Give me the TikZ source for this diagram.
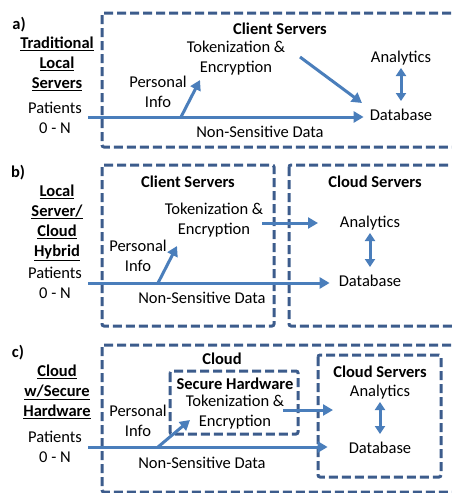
\documentclass[tikz,border=0pt]{standalone}
\usepackage{fontspec}
\setmainfont{Carlito}
\usetikzlibrary{arrows.meta, positioning, calc}
\definecolor{boxblue}{RGB}{60,92,140}
\definecolor{arrowblue}{RGB}{74,126,187}
\tikzset{
         mydash/.style={draw=boxblue, line width=3pt, dash pattern=on 9pt off 4pt, rounded corners=2pt},
         mytext/.style={inner sep=0pt, align=center, font=\fontsize{16.5}{20}\selectfont},
         mybold/.style={mytext, font=\fontsize{16.5}{20}\selectfont\bfseries},
         myarrow/.style={draw=arrowblue, line width=3pt, -{Triangle[length=10pt,width=11pt]}},
         mydarrow/.style={draw=arrowblue, line width=3pt, {Triangle[length=8pt,width=10pt]}-{Triangle[length=8pt,width=10pt]}}
      }

\begin{document}
\begin{tikzpicture}[x=1pt, y=-1pt]
  \useasboundingbox (0,0) rectangle (452,493);
  \clip (0,0) rectangle (452,493);

  % a) traditional local servers
  \draw[mydash] (102,13) rectangle (470,147);
  \node[mybold] (a-lbl) at (19,25) {a)};
  \node[mybold] (a-title) at (57,64) {\underline{Traditional}\\\underline{Local}\\\underline{Servers}};
  \node[mytext] (a-pat) at (55,118) {Patients\\0 - N};
  \node[mybold] (a-cs) at (280,29) {Client Servers};
  \node[mytext] (a-tok) at (236,58) {Tokenization \&\\Encryption};
  \node[mytext] (a-pi) at (158,92) {Personal\\Info};
  \node[mytext] (a-an) at (401,58) {Analytics};
  \node[mytext] (a-db) at (401,115) {Database};
  \node[mytext] (a-nsd) at (260,132) {Non-Sensitive Data};
  \coordinate (a-in) at (88,117);
  \coordinate (a-pf) at (181,117);
  \coordinate (a-pt) at (200,80);
  \coordinate (a-ts) at (300,57);
  \coordinate (a-te) at (362,103);
  \draw[myarrow, shorten >=6pt] (a-in) -- (a-in -| a-db.west);
  \draw[myarrow] (a-pf) -- (a-pt);
  \draw[myarrow] (a-ts) -- (a-te);
  \draw[mydarrow] ($(a-an)+(0,10)$) -- ($(a-db)+(0,-14)$);

  % b) local server / cloud hybrid
  \draw[mydash] (102,165) rectangle (274,326);
  \draw[mydash] (289,165) rectangle (470,326);
  \node[mybold] (b-lbl) at (18,173) {b)};
  \node[mybold] (b-title) at (57,223) {\underline{Local}\\\underline{Server/}\\\underline{Cloud}\\\underline{Hybrid}};
  \node[mytext] (b-pat) at (55,283) {Patients\\0 - N};
  \node[mybold] (b-cs) at (188,182) {Client Servers};
  \node[mytext] (b-tok) at (214,220) {Tokenization \&\\Encryption};
  \node[mytext] (b-pi) at (138,256) {Personal\\Info};
  \node[mybold] (b-ccs) at (375,182) {Cloud Servers};
  \node[mytext] (b-an) at (370,223) {Analytics};
  \node[mytext] (b-db) at (370,281) {Database};
  \node[mytext] (b-nsd) at (202,298) {Non-Sensitive Data};
  \coordinate (b-in) at (88,283);
  \coordinate (b-pf) at (158,283);
  \coordinate (b-pt) at (177,246);
  \coordinate (b-ts) at (262,223);
  \coordinate (b-te) at (318,223);
  \draw[myarrow, shorten >=9pt] (b-in) -- (b-in -| b-db.west);
  \draw[myarrow] (b-pf) -- (b-pt);
  \draw[myarrow] (b-ts) -- (b-te);
  \draw[mydarrow] ($(b-an)+(0,10)$) -- ($(b-db)+(0,-14)$);

  % c) cloud with secure hardware
  \draw[mydash] (102,345) rectangle (470,492);
  \draw[mydash] (170,371) rectangle (298,434);
  \draw[mydash] (318,355) rectangle (441,477);
  \node[mybold] (c-lbl) at (18,353) {c)};
  \node[mybold] (c-title) at (57,392) {\underline{Cloud}\\\underline{w/Secure}\\\underline{Hardware}};
  \node[mytext] (c-pat) at (55,447) {Patients\\0 - N};
  \node[mybold] (c-cl) at (222,359) {Cloud};
  \node[mybold] (c-sh) at (235,384) {Secure Hardware};
  \node[mytext] (c-tok) at (235,412) {Tokenization \&\\Encryption};
  \node[mytext] (c-pi) at (138,421) {Personal\\Info};
  \node[mybold] (c-cs) at (380,372) {Cloud Servers};
  \node[mytext] (c-an) at (380,392) {Analytics};
  \node[mytext] (c-db) at (380,448) {Database};
  \node[mytext] (c-nsd) at (202,463) {Non-Sensitive Data};
  \coordinate (c-in) at (88,447);
  \coordinate (c-pf) at (158,447);
  \coordinate (c-pt) at (190,420);
  \coordinate (c-ts) at (283,410);
  \coordinate (c-te) at (333,410);
  \draw[myarrow, shorten >=21pt] (c-in) -- (c-in -| c-db.west);
  \draw[myarrow] (c-pf) -- (c-pt);
  \draw[myarrow] (c-ts) -- (c-te);
  \draw[mydarrow] ($(c-an)+(0,10)$) -- ($(c-db)+(0,-14)$);
\end{tikzpicture}
\end{document}
